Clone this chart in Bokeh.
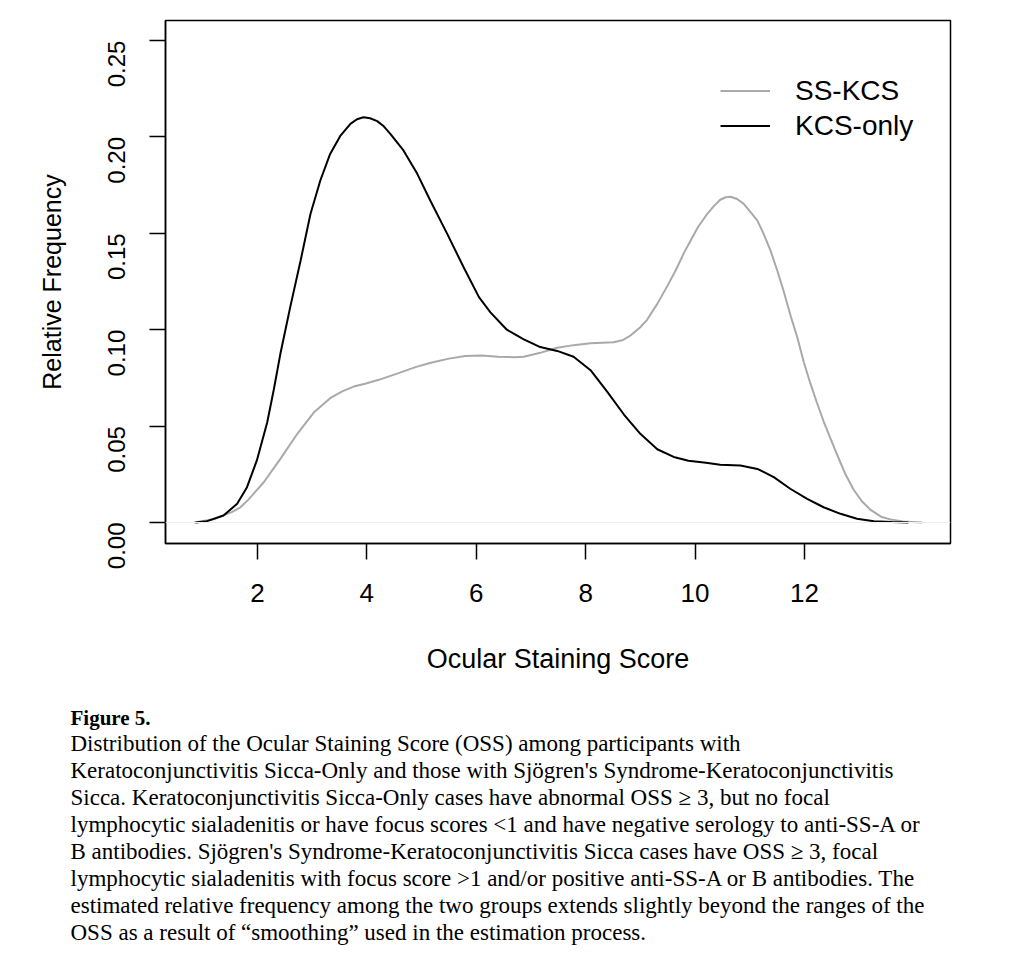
import math
from bokeh.plotting import figure
from bokeh.models import (Range1d, FixedTicker, Legend, LegendItem, Span, Title)
from bokeh.embed import file_html
from bokeh.resources import INLINE

# ---------------- data ----------------
kcs_only_x = [0.87, 1.08, 1.38, 1.63, 1.81, 1.99, 2.18, 2.3, 2.42, 2.51, 2.6, 2.79, 2.97, 3.15,
              3.33, 3.52, 3.7, 3.82, 3.94, 4.06, 4.19, 4.31, 4.43, 4.67, 4.92, 5.16, 5.47, 5.77,
              6.05, 6.26, 6.56, 6.87, 7.17, 7.48, 7.78, 8.09, 8.39, 8.7, 9.0, 9.31, 9.61, 9.88,
              10.2, 10.46, 10.83, 11.14, 11.44, 11.74, 12.05, 12.35, 12.66, 12.96, 13.27, 13.6,
              13.9]
kcs_only_y = [0.0, 0.0007, 0.0036, 0.0097, 0.0183, 0.0322, 0.052, 0.069, 0.0875, 0.0996, 0.1117,
              0.1359, 0.160, 0.1774, 0.1912, 0.2007, 0.2068, 0.2092, 0.2102, 0.2097, 0.2082,
              0.2055, 0.2016, 0.193, 0.181, 0.167, 0.1497, 0.1324, 0.1169, 0.109, 0.100, 0.095,
              0.091, 0.089, 0.086, 0.079, 0.068, 0.056, 0.046, 0.038, 0.034, 0.032, 0.031, 0.030,
              0.0296, 0.0278, 0.0235, 0.0175, 0.0123, 0.0079, 0.0045, 0.0019, 0.0007, 0.0002, 0.0]

ss_kcs_x = [0.84, 1.2, 1.54, 1.69, 1.84, 2.12, 2.42, 2.73, 3.03, 3.33, 3.55, 3.76, 3.97, 4.22,
            4.58, 4.89, 5.19, 5.5, 5.8, 6.1, 6.4, 6.7, 6.87, 7.17, 7.48, 7.78, 8.09, 8.3, 8.51,
            8.67, 8.82, 9.0, 9.12, 9.31, 9.5, 9.65, 9.8, 9.92, 10.05, 10.22, 10.34, 10.46,
            10.56, 10.65, 10.77, 10.89, 11.0, 11.14, 11.25, 11.38, 11.5, 11.62, 11.75, 11.87,
            11.99, 12.11, 12.23, 12.35, 12.47, 12.6, 12.75, 12.9, 13.05, 13.21, 13.4, 13.57,
            13.8, 14.15]
ss_kcs_y = [0.0, 0.0017, 0.0055, 0.0079, 0.012, 0.021, 0.033, 0.046, 0.057, 0.0645, 0.068,
            0.0705, 0.072, 0.074, 0.0775, 0.0806, 0.083, 0.085, 0.0864, 0.0866, 0.086, 0.0857,
            0.086, 0.088, 0.0906, 0.092, 0.093, 0.0933, 0.0935, 0.0945, 0.097, 0.1013, 0.105,
            0.1134, 0.123, 0.131, 0.140, 0.1463, 0.153, 0.160, 0.164, 0.1674, 0.1687, 0.169,
            0.1678, 0.1653, 0.1615, 0.1566, 0.150, 0.141, 0.131, 0.120, 0.107, 0.096, 0.083,
            0.072, 0.062, 0.0525, 0.044, 0.035, 0.025, 0.017, 0.011, 0.0065, 0.003, 0.0016,
            0.0005, 0.0]

series_names = ["SS-KCS", "KCS-only"]
x_ticks = [2, 4, 6, 8, 10, 12]
y_ticks = [0.0, 0.05, 0.10, 0.15, 0.20, 0.25]
y_tick_labels = ["0.00", "0.05", "0.10", "0.15", "0.20", "0.25"]
x_title = "Ocular Staining Score"
y_title = "Relative Frequency"

caption_title = "Figure 5."
caption_lines = [
    "Distribution of the Ocular Staining Score (OSS) among participants with",
    "Keratoconjunctivitis Sicca-Only and those with Sjögren's Syndrome-Keratoconjunctivitis",
    "Sicca. Keratoconjunctivitis Sicca-Only cases have abnormal OSS \u2265 3, but no focal",
    "lymphocytic sialadenitis or have focus scores <1 and have negative serology to anti-SS-A or",
    "B antibodies. Sjögren's Syndrome-Keratoconjunctivitis Sicca cases have OSS \u2265 3, focal",
    "lymphocytic sialadenitis with focus score >1 and/or positive anti-SS-A or B antibodies. The",
    "estimated relative frequency among the two groups extends slightly beyond the ranges of the",
    "OSS as a result of \u201csmoothing\u201d used in the estimation process.",
]

SANS = "Liberation Sans"
SERIF = "Liberation Serif"

# ---------------- main plot ----------------
p = figure(width=995, height=956, output_backend="svg", toolbar_location=None,
           x_range=Range1d(0.32, 14.67), y_range=Range1d(-0.0109, 0.2604),
           min_border_left=165, min_border_right=45, min_border_top=20, min_border_bottom=413)
p.grid.visible = False
p.outline_line_color = "black"
p.outline_line_width = 1.5
p.background_fill_color = "white"
p.border_fill_color = "white"

p.add_layout(Span(location=0, dimension="width", line_color="#eeeeee", line_width=1))

g1 = p.line(ss_kcs_x, ss_kcs_y, line_color="#a9a9a9", line_width=2)
g2 = p.line(kcs_only_x, kcs_only_y, line_color="black", line_width=2)

for ax in (p.xaxis[0], p.yaxis[0]):
    ax.axis_line_color = "black"
    ax.axis_line_width = 1.5
    ax.major_tick_line_color = "black"
    ax.major_tick_line_width = 1.5
    ax.major_tick_in = 0
    ax.major_tick_out = 16
    ax.minor_tick_line_color = None
    ax.major_label_text_font = SANS
    ax.major_label_text_color = "black"
    ax.axis_label_text_font = SANS
    ax.axis_label_text_font_style = "normal"
    ax.axis_label_text_color = "black"

xa = p.xaxis[0]
xa.ticker = FixedTicker(ticks=x_ticks)
xa.major_label_text_font_size = "26px"
xa.major_label_standoff = 24
xa.axis_label = x_title
xa.axis_label_text_font_size = "27px"
xa.axis_label_standoff = 39

ya = p.yaxis[0]
ya.ticker = FixedTicker(ticks=y_ticks)
ya.major_label_overrides = {t: l for t, l in zip(y_ticks, y_tick_labels)}
ya.major_label_orientation = math.pi / 2
ya.major_label_text_font_size = "24px"
ya.major_label_standoff = 33
ya.axis_label = y_title
ya.axis_label_text_font_size = "25px"
ya.axis_label_standoff = 31

legend = Legend(items=[LegendItem(label=series_names[0], renderers=[g1]),
                       LegendItem(label=series_names[1], renderers=[g2])],
                location=(555, 400), orientation="vertical",
                border_line_color=None, background_fill_alpha=0,
                label_text_font=SANS, label_text_font_size="28px", label_text_color="black",
                glyph_width=50, glyph_height=35, label_height=35, label_standoff=25,
                spacing=0, padding=0, margin=0)
p.add_layout(legend)

# ---------------- caption: stacked titles below the x axis ----------------
p.add_layout(Title(text=" ", align="left", offset=-95, standoff=24,
                   text_font=SERIF, text_font_size="1px", text_color="white"), "below")
p.add_layout(Title(text=caption_title, align="left", offset=-95, standoff=0,
                   text_font=SERIF, text_font_size="21px", text_font_style="bold",
                   text_color="black", text_line_height=1.0), "below")
for line in caption_lines:
    p.add_layout(Title(text=line, align="left", offset=-95, standoff=0.4,
                       text_font=SERIF, text_font_size="23px", text_font_style="normal",
                       text_color="black", text_line_height=1.0), "below")

open("out.html", "w").write(file_html(p, INLINE))
